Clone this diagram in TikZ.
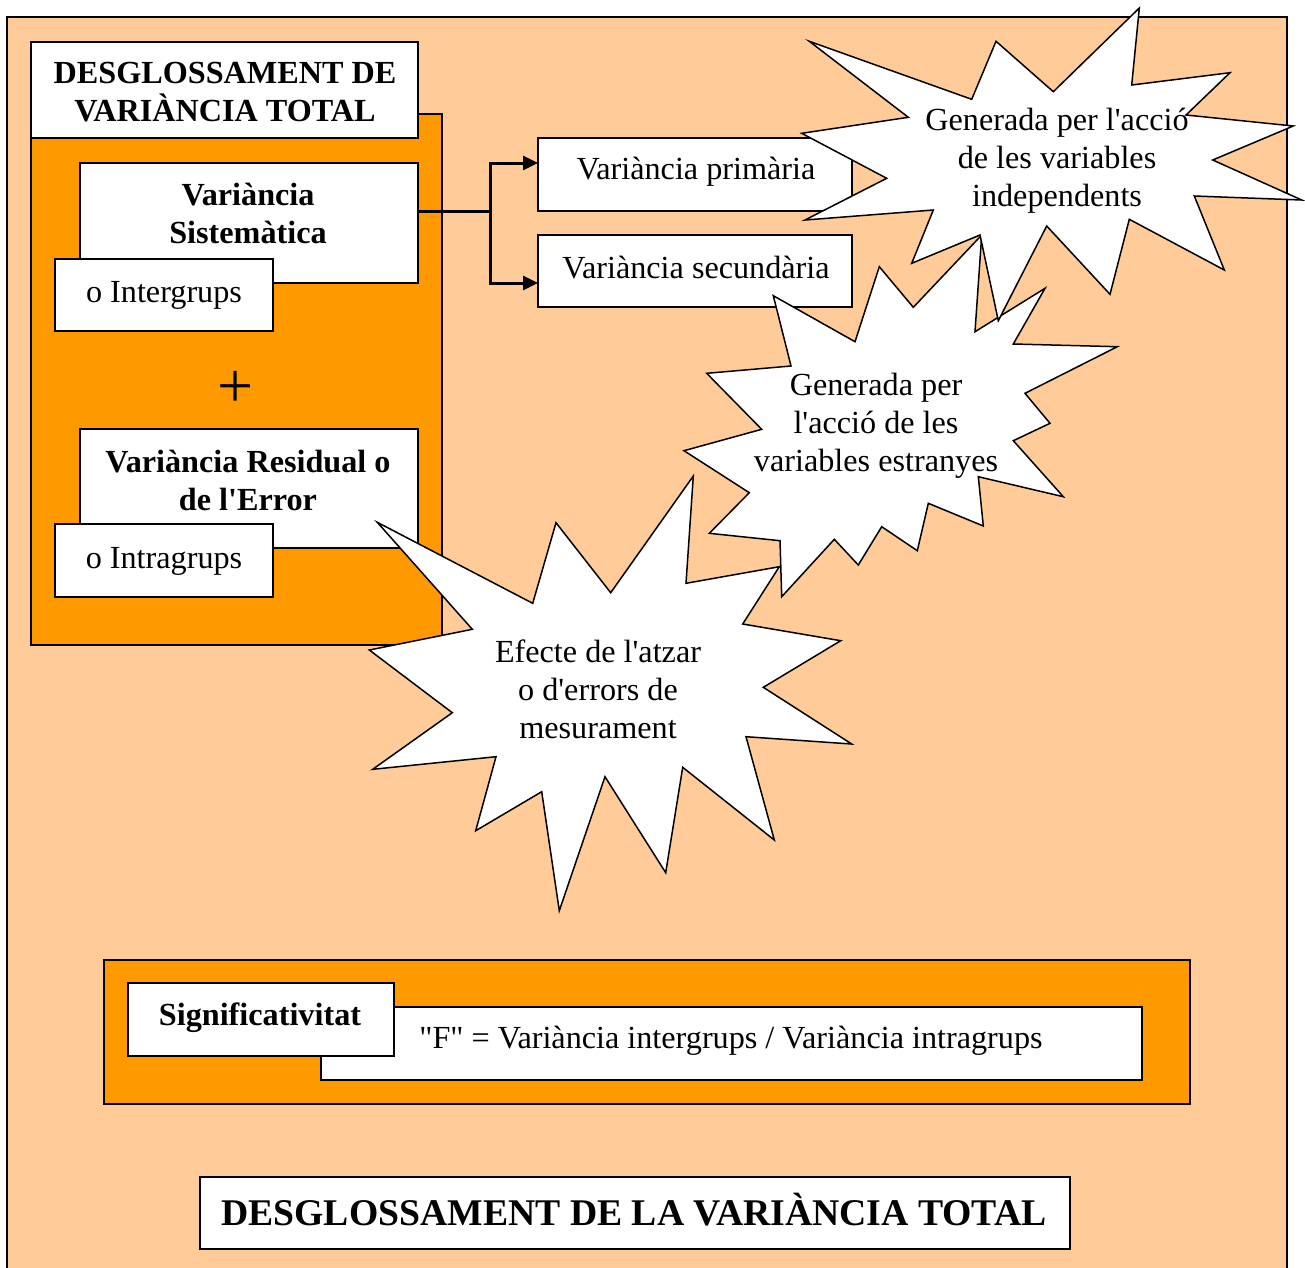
\documentclass[tikz,border=0pt]{standalone}
\usepackage{fontspec}
\setmainfont{Liberation Serif}
\usetikzlibrary{arrows.meta}
\definecolor{peach}{HTML}{FFCC99}
\definecolor{amber}{HTML}{FF9900}
\newcommand{\apos}{\textquotesingle}
\begin{document}
\begin{tikzpicture}[x=1pt,y=-1pt,
  txt/.style={font=\fontsize{32.2pt}{38pt}\selectfont, align=center, inner sep=0pt},
  boldtxt/.style={txt, font=\fontsize{32.2pt}{38pt}\selectfont\bfseries},
  box/.style={draw=black, fill=white, line width=1.5pt, inner sep=0pt, outer sep=0pt, anchor=north west},
  panel/.style={box, fill=amber},
  burst/.style={draw=black, fill=white, line width=1.5pt, line join=miter},
  conn/.style={line width=3pt, line join=miter},
  tip/.style={-{Triangle[length=15pt,width=14pt]}},
]
\useasboundingbox (0,0) rectangle (1305,1267);
\fill[white] (0,0) rectangle (1305,1267);
\clip (0,0) rectangle (1305,1267);

% page frame
\draw[line width=2pt, fill=peach] (7,17) rectangle (1287,1300);

% left column: decomposition of the total variance
\node[panel, minimum width=411pt, minimum height=531pt] (leftpanel) at (31,114) {};
\node[box, minimum width=387pt, minimum height=96pt] (title) at (31,42) {};
\node[boldtxt] (titletxt) at (225,92) {DESGLOSSAMENT DE\\VARIÀNCIA TOTAL};

\node[box, minimum width=338pt, minimum height=120pt] (sis) at (80,163) {};
\node[boldtxt] (sistxt) at (248,213) {Variància\\Sistemàtica};
\node[box, minimum width=218pt, minimum height=72pt] (inter) at (55,259) {};
\node[txt] (intertxt) at (164,295) {o Intergrups};

\node[font=\fontsize{64pt}{66pt}\selectfont, inner sep=0pt] (plus) at (236,389) {+};

\node[box, minimum width=338pt, minimum height=119pt] (res) at (80,429) {};
\node[boldtxt] (restxt) at (248,480) {Variància Residual o\\de l\apos Error};
\node[box, minimum width=218pt, minimum height=73pt] (intra) at (55,524) {};
\node[txt] (intratxt) at (164,561) {o Intragrups};

% primary and secondary variance
\node[box, minimum width=314pt, minimum height=73pt] (prim) at (538,138) {};
\node[txt] (primtxt) at (696,172) {Variància primària};
\node[box, minimum width=314pt, minimum height=72pt] (sec) at (538,235) {};
\node[txt] (sectxt) at (696,268) {Variància secundària};

\coordinate (fork) at (490,211);
\draw[conn] ([yshift=12pt]sis.east) -- (fork);
\draw[conn, tip] (fork) |- ([yshift=11.5pt]prim.west);
\draw[conn, tip] (fork) |- ([yshift=-12pt]sec.west);

% explosion callouts
\draw[burst] (773.3,295.7) -- (855,341.7) -- (879.3,266.7) -- (913.3,307.3)
  -- (981.7,235) -- (975,331.7) -- (1045,288.3) -- (1013.3,344) -- (1117.3,346.7)
  -- (1025,393.3) -- (1050,423.3) -- (1013.3,440.7) -- (1063.3,496.7)
  -- (978.3,476.7) -- (983.3,526) -- (928.3,503.3) -- (917.3,550.7)
  -- (881.7,526.7) -- (858.3,565) -- (834.3,539.3) -- (781.7,596.7)
  -- (780,540.7) -- (709.3,533.3) -- (749.3,492.7) -- (684,450.7)
  -- (761.7,429.3) -- (706.7,373.3) -- (791,366) -- cycle;
\node[txt] (strangetxt) at (876,426) {Generada per\\l\apos acció de les\\variables estranyes};

\draw[burst] (809.3,41.3) -- (971.7,99.3) -- (996,41.3) -- (1053.3,91.7)
  -- (1139.3,8) -- (1131.7,85) -- (1230,72.7) -- (1186,115) -- (1293.3,126)
  -- (1212.7,160) -- (1301.7,200) -- (1194.3,196) -- (1224.3,270)
  -- (1129.3,219.3) -- (1110,294.3) -- (1046.7,226) -- (998.3,320.7)
  -- (980,235) -- (911.7,263.3) -- (933.3,210) -- (805,220) -- (886.7,178.3)
  -- (801.7,133.3) -- (908.3,117.3) -- cycle;
\node[txt] (indeptxt) at (1057,161) {Generada per l\apos acció\\de les variables\\independents};

\draw[burst] (377.3,522.3) -- (532.7,603.3) -- (556,522.7) -- (610.7,592.7)
  -- (693.3,476) -- (686,583.3) -- (779.3,566.7) -- (742.7,624) -- (840.7,640.7)
  -- (763.3,687.3) -- (851.7,744) -- (746,736.7) -- (774.3,840) -- (682.7,767.3)
  -- (665.7,872.7) -- (605,776.7) -- (559.3,910.7) -- (541.7,791.7)
  -- (475.7,830.7) -- (496,756.7) -- (372.7,769.3) -- (452.3,712.7)
  -- (369.3,650) -- (472.3,629.3) -- cycle;
\node[txt] (chancetxt) at (598,689) {Efecte de l\apos atzar\\o d\apos errors de\\mesurament};

% significance
\node[panel, minimum width=1086pt, minimum height=144pt] (sigpanel) at (104,960) {};
\node[box, minimum width=821pt, minimum height=73pt] (fbox) at (321,1007) {};
\node[txt] (ftxt) at (731,1041) {\textquotedbl F\textquotedbl{} = Variància intergrups / Variància intragrups};
\node[box, minimum width=266pt, minimum height=73pt] (sig) at (128,983) {};
\node[boldtxt] (sigtxt) at (260,1018) {Significativitat};

% caption
\node[box, minimum width=870pt, minimum height=72pt] (foot) at (200,1177) {};
\node[txt, font=\fontsize{37.7pt}{44pt}\selectfont\bfseries] (foottxt) at (634,1210) {DESGLOSSAMENT DE LA VARIÀNCIA TOTAL};
\end{tikzpicture}
\end{document}
